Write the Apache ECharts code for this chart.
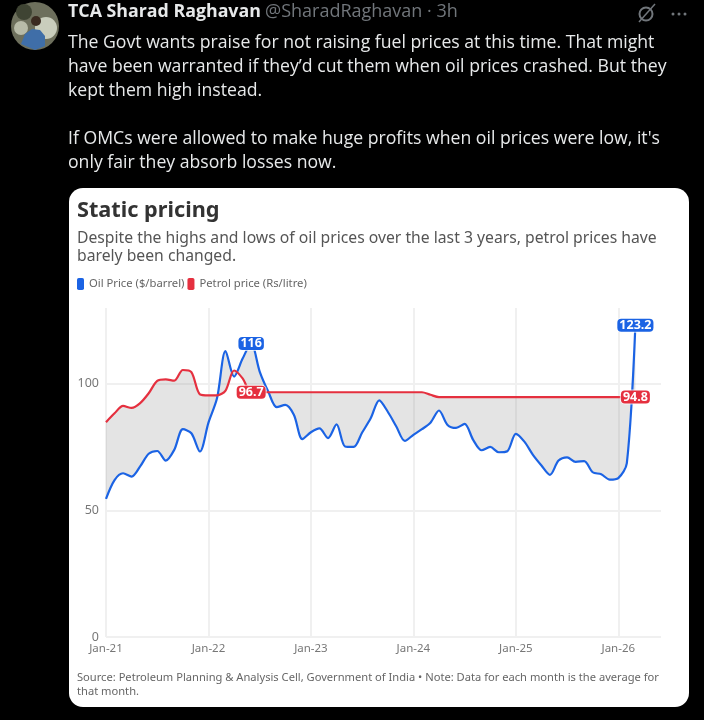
<!DOCTYPE html>
<html>
<head>
<meta charset="utf-8">
<style>
html,body{margin:0;padding:0;background:#000;}
#main{width:704px;height:720px;}
</style>
<script src="https://cdn.jsdelivr.net/npm/echarts@6/dist/echarts.min.js"></script>
</head>
<body>
<div id="main"></div>
<script>
var months = [
  'Jan-21','Feb-21','Mar-21','Apr-21','May-21','Jun-21','Jul-21','Aug-21','Sep-21','Oct-21','Nov-21','Dec-21',
  'Jan-22','Feb-22','Mar-22','Apr-22','May-22','Jun-22','Jul-22','Aug-22','Sep-22','Oct-22','Nov-22','Dec-22',
  'Jan-23','Feb-23','Mar-23','Apr-23','May-23','Jun-23','Jul-23','Aug-23','Sep-23','Oct-23','Nov-23','Dec-23',
  'Jan-24','Feb-24','Mar-24','Apr-24','May-24','Jun-24','Jul-24','Aug-24','Sep-24','Oct-24','Nov-24','Dec-24',
  'Jan-25','Feb-25','Mar-25','Apr-25','May-25','Jun-25','Jul-25','Aug-25','Sep-25','Oct-25','Nov-25','Dec-25',
  'Jan-26','Feb-26','Mar-26','Apr-26','May-26','Jun-26'
];
var oilPrice = [
  54.6,62,64.7,63.4,67.4,72.4,73.5,69.7,74,82.1,80.5,73.3,
  84.7,94.3,113,102.9,110,116,104.9,97,90.8,91.7,87.8,78.2,
  80.9,82.4,78.6,84,75.3,75.1,80.8,86.4,93.5,89,83.2,77.5,
  79.9,82.1,84.7,89.5,83.8,82.6,84.2,77.9,73.8,75.1,73,73.4,
  80.3,77.2,72,67.8,64.1,69.7,71,69.2,69.5,65.1,64.3,62.2,
  62.8,68.7,123.2
];
var petrolPrice = [
  84.9,88.4,91.3,90.5,92.4,96.3,101.2,101.8,101.3,105.5,104.7,95.9,
  95.5,95.5,97.4,105.3,102.2,96.7,96.7,96.7,96.7,96.7,96.7,96.7,
  96.7,96.7,96.7,96.7,96.7,96.7,96.7,96.7,96.7,96.7,96.7,96.7,
  96.7,96.7,95.7,94.8,94.8,94.8,94.8,94.8,94.8,94.8,94.8,94.8,
  94.8,94.8,94.8,94.8,94.8,94.8,94.8,94.8,94.8,94.8,94.8,94.8,
  94.8,94.8,94.8
];
var oilLabels = {17:'116', 62:'123.2'};
var petrolLabels = {17:'96.7', 62:'94.8'};
var yTicks = [0,50,100];

var tweetLines = [
  'The Govt wants praise for not raising fuel prices at this time. That might',
  'have been warranted if they’d cut them when oil prices crashed. But they',
  'kept them high instead.',
  '',
  'If OMCs were allowed to make huge profits when oil prices were low, it\'s',
  'only fair they absorb losses now.'
];

var tweetFont = '"Open Sans", Roboto, sans-serif';
var cardFont = '"Noto Sans", Roboto, sans-serif';
var BLUE = '#1b63e4', RED = '#e5303f';

// grey band between the two lines, closed off at each crossing
function renderBand(params, api){
  var shapes = [], upper = [], lower = [];
  function flush(){
    if(upper.length){
      shapes.push({
        type:'polygon',
        shape:{points: upper.concat(lower.slice().reverse())},
        style:{fill:'rgba(120,120,120,0.2)'}
      });
    }
    upper = []; lower = [];
  }
  for(var i = 0; i < oilPrice.length; i++){
    var a = api.coord([i, oilPrice[i]]), b = api.coord([i, petrolPrice[i]]);
    if(i > 0){
      var d0 = oilPrice[i-1] - petrolPrice[i-1], d1 = oilPrice[i] - petrolPrice[i];
      if(d0 * d1 < 0){
        var t = d0 / (d0 - d1);
        var a0 = api.coord([i-1, oilPrice[i-1]]);
        var p = [a0[0] + (a[0]-a0[0])*t, a0[1] + (a[1]-a0[1])*t];
        upper.push(p); lower.push(p);
        flush();
        upper.push(p); lower.push(p);
      }
    }
    upper.push(a); lower.push(b);
  }
  flush();
  return {type:'group', children:shapes};
}

function seriesData(values, labels){
  return values.map(function(v, i){
    if(labels[i] === undefined) return v;
    return {value:v, label:{show:true, formatter:labels[i]}};
  });
}

function pointLabel(color){
  return {
    position:'inside', color:'#fff', fontWeight:700, fontSize:12.5, lineHeight:13,
    backgroundColor:color, borderRadius:4, padding:[0,2],
    borderColor:'rgba(255,255,255,0.7)', borderWidth:1
  };
}

var tweetText = tweetLines.map(function(line, i){
  return {
    type:'text', left:68, top:33.5 + i*24,
    style:{text:line, fill:'#e7e9ea', font:'400 17.65px ' + tweetFont}
  };
});

var myChart = echarts.init(document.getElementById('main'), null, {renderer:'canvas'});
var option = {
  backgroundColor:'#000',
  animation:false,
  textStyle:{fontFamily:cardFont},
  legend:{
    left:72, top:273, itemWidth:7, itemHeight:12, itemGap:3,
    icon:'roundRect', selectedMode:false,
    data:['Oil Price ($/barrel)','Petrol price (Rs/litre)'],
    textStyle:{color:'#666', fontSize:11.25, fontFamily:cardFont}
  },
  graphic:[
    {type:'rect', z:-10, shape:{x:69, y:188, width:620, height:519, r:14}, style:{fill:'#fff'}},
    // avatar
    {type:'circle', shape:{cx:35, cy:26, r:24}, style:{fill:'#6d6f5c'}},
    {type:'circle', shape:{cx:24, cy:12, r:8}, style:{fill:'#3f4433'}},
    {type:'circle', shape:{cx:46, cy:28, r:11}, style:{fill:'#c9cdbc'}},
    {type:'circle', shape:{cx:21, cy:28, r:7}, style:{fill:'#b8bba8'}},
    {type:'circle', shape:{cx:36, cy:21, r:5}, style:{fill:'#3a2a20'}},
    {type:'polygon', shape:{points:[[21,44],[25,34],[32,29],[40,30],[45,36],[45,46],[35,50]]}, style:{fill:'#3f6ea8'}},
    // header
    {type:'text', left:68, top:3, style:{
      text:'TCA Sharad Raghavan', fill:'#e7e9ea', font:'700 17.8px ' + tweetFont}},
    {type:'text', left:265, top:3, style:{
      text:'@SharadRaghavan · 3h', fill:'#71767b', font:'400 18px ' + tweetFont}},
    {type:'circle', shape:{cx:646, cy:14, r:6.5}, style:{fill:'none', stroke:'#71767b', lineWidth:2}},
    {type:'line', shape:{x1:639, y1:22, x2:655, y2:4}, style:{stroke:'#71767b', lineWidth:1.5}},
    {type:'circle', shape:{cx:673, cy:14, r:1.5}, style:{fill:'#71767b'}},
    {type:'circle', shape:{cx:679, cy:14, r:1.5}, style:{fill:'#71767b'}},
    {type:'circle', shape:{cx:685, cy:14, r:1.5}, style:{fill:'#71767b'}},
    // chart heading
    {type:'text', left:77, top:200, style:{
      text:'Static pricing', fill:'#333', font:'700 21.7px ' + cardFont}},
    {type:'text', left:77, top:231, style:{
      text:'Despite the highs and lows of oil prices over the last 3 years, petrol prices have', fill:'#555', font:'400 15.73px ' + cardFont}},
    {type:'text', left:77, top:249, style:{
      text:'barely been changed.', fill:'#555', font:'400 15.73px ' + cardFont}},
    // footer
    {type:'text', left:77, top:672, style:{
      text:'Source: Petroleum Planning & Analysis Cell, Government of India • Note: Data for each month is the average for', fill:'#666', font:'400 11.15px ' + cardFont}},
    {type:'text', left:77, top:686, style:{
      text:'that month.', fill:'#666', font:'400 11.15px ' + cardFont}}
  ].concat(tweetText),
  grid:{left:106, top:308, width:555, height:329, containLabel:false},
  xAxis:{
    type:'category',
    boundaryGap:false,
    data:months,
    axisLine:{show:false},
    axisTick:{show:false},
    axisLabel:{
      interval:11, color:'#777', fontSize:11.5, margin:6, fontFamily:cardFont,
      showMinLabel:true, hideOverlap:false
    },
    splitLine:{show:true, interval:11, lineStyle:{color:'#f0f0f0', width:2}}
  },
  yAxis:{
    type:'value',
    min:yTicks[0], max:130, interval:yTicks[1]-yTicks[0],
    axisLine:{show:false},
    axisTick:{show:false},
    axisLabel:{color:'#777', fontSize:12.5, margin:7, showMaxLabel:false, fontFamily:cardFont, verticalAlignMinLabel:'middle'},
    splitLine:{show:true, showMaxLine:false, lineStyle:{color:'#f0f0f0', width:2}}
  },
  series:[
    {
      type:'custom', silent:true, z:1, clip:false,
      renderItem:renderBand, data:[0],
      encode:{x:-1, y:-1}, legendHoverLink:false
    },
    {
      name:'Oil Price ($/barrel)', type:'line', z:2, itemStyle:{color:BLUE},
      data:seriesData(oilPrice, oilLabels),
      smooth:0.3, showSymbol:true, showAllSymbol:true, symbol:'circle', symbolSize:0,
      lineStyle:{color:BLUE, width:2.2},
      label:pointLabel(BLUE),
      labelLayout:{hideOverlap:false}
    },
    {
      name:'Petrol price (Rs/litre)', type:'line', z:3, itemStyle:{color:RED},
      data:seriesData(petrolPrice, petrolLabels),
      smooth:0.3, showSymbol:true, showAllSymbol:true, symbol:'circle', symbolSize:0,
      lineStyle:{color:RED, width:2.2},
      label:pointLabel(RED),
      labelLayout:{hideOverlap:false}
    }
  ]
};
myChart.setOption(option);
</script>
</body>
</html>
